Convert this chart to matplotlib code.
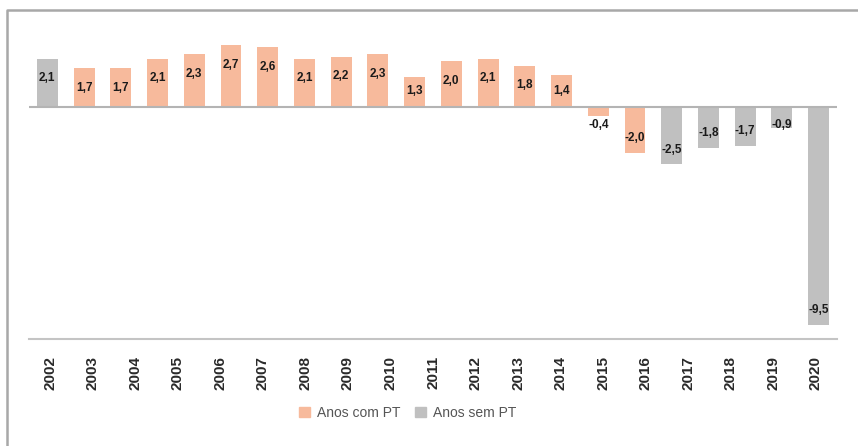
import matplotlib.pyplot as plt
from matplotlib.lines import Line2D
from matplotlib.patches import Patch

# valores das barras (22 barras no original) e rótulos de anos do eixo (19)
valores = [2.1, 1.7, 1.7, 2.1, 2.3, 2.7, 2.6, 2.1, 2.2, 2.3, 1.3,
           2.0, 2.1, 1.8, 1.4, -0.4, -2.0, -2.5, -1.8, -1.7, -0.9, -9.5]
com_pt = [False] + [True] * 16 + [False] * 5
anos = ['2002', '2003', '2004', '2005', '2006', '2007', '2008', '2009', '2010', '2011',
        '2012', '2013', '2014', '2015', '2016', '2017', '2018', '2019', '2020']

cor_pt = '#F7BA9C'
cor_sem = '#C0C0C0'

plt.rcParams['font.family'] = ['Liberation Sans', 'DejaVu Sans']

fig = plt.figure(figsize=(8.58, 4.46), dpi=100)
# moldura: só topo e lado esquerdo
fig.lines.append(Line2D([7 / 858, 7 / 858, 1], [0, 1 - 10 / 446, 1 - 10 / 446],
                        transform=fig.transFigure, color='#A8A8A8', linewidth=1.8))

ax = fig.add_axes([29 / 858, 1 - 339 / 446, 808 / 858, 310 / 446])
x = list(range(len(valores)))
cores = [cor_pt if c else cor_sem for c in com_pt]
ax.bar(x, valores, width=0.57, color=cores, zorder=2)
ax.set_xlim(-0.5, len(valores) - 0.5)
ax.set_ylim(-10.1, 3.4)
ax.axhline(0, color='#B4B4B4', linewidth=1.5, zorder=3)

for xi, v in zip(x, valores):
    if v >= 0:
        y = max(v - 0.85, 0.7)
    else:
        y = min(v + 0.65, -0.8)
    ax.text(xi, y, f'{v:.1f}'.replace('.', ','), ha='center', va='center',
            fontsize=8.5, fontweight='bold', color='#1A1A1A', zorder=4)

for s in ['top', 'right', 'left']:
    ax.spines[s].set_visible(False)
ax.spines['bottom'].set_color('#C4C4C4')
ax.spines['bottom'].set_linewidth(1.5)
ax.set_yticks([])
ax.set_xticks([])

# eixo de categorias com os anos
ax2 = ax.twiny()
ax2.set_xlim(-0.5, len(anos) - 0.5)
ax2.xaxis.set_ticks_position('bottom')
ax2.xaxis.set_label_position('bottom')
for s in ['top', 'right', 'left', 'bottom']:
    ax2.spines[s].set_visible(False)
ax2.set_xticks(range(len(anos)))
ax2.set_xticklabels(anos, rotation=90, fontsize=11, fontweight='bold', color='#2A2A2A')
ax2.tick_params(axis='x', length=0, pad=12)

handles = [Patch(color=cor_pt, label='Anos com PT'), Patch(color=cor_sem, label='Anos sem PT')]
fig.legend(handles=handles, loc='center', bbox_to_anchor=(0.475, 1 - 413 / 446), ncol=2,
           frameon=False, fontsize=10, handlelength=0.8, handleheight=0.8,
           handletextpad=0.5, columnspacing=1.0, labelcolor='#555555')

fig.savefig('out.png', dpi=100)
